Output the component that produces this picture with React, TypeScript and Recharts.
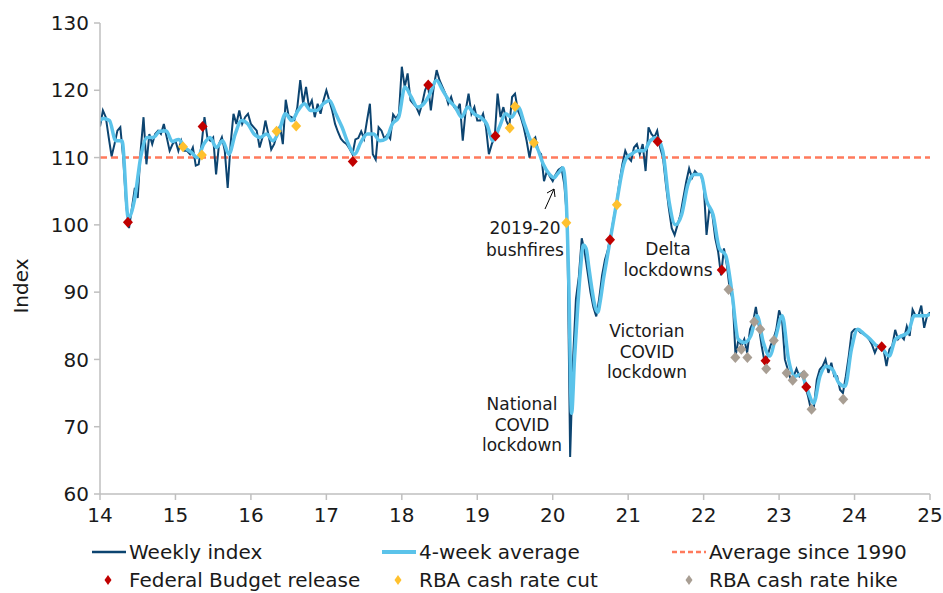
import React from 'react';
import { ComposedChart, Line, Scatter, XAxis, YAxis, ReferenceLine } from 'recharts';

const FONT = 'Verdana, "DejaVu Sans", sans-serif';
const AXIS_GREY = '#BFBFBF';
const WEEKLY_COLOR = '#0C4470';
const AVG_COLOR = '#5BC3EA';
const REF_COLOR = '#FF7A5C';

// weekly index, read roughly every two weeks (26 readings per year)
const weekly14 = [114.6, 117, 116, 113, 110.2, 112, 114, 114.5, 110, 103, 99.5, 102.5, 105.5, 104, 111, 116, 109, 113.5, 112, 113.5, 114, 113.5, 115, 113, 111, 112];
const weekly15 = [112.5, 111, 112.5, 111, 111, 110.5, 111.5, 108.8, 109, 112, 116, 113, 112.5, 113, 107.5, 112, 113, 111, 105.5, 112, 116.5, 115, 117, 115, 116, 116.5];
const weekly16 = [115, 114.5, 114, 111.5, 113, 115.5, 113.5, 111.2, 112, 113.5, 114.7, 112, 118.6, 116.2, 116, 115.6, 117.5, 121.5, 118, 120.5, 117.5, 118.5, 116, 118, 116.5, 118.5];
const weekly17 = [120, 118.5, 117, 115, 113.8, 112.8, 112.3, 112, 111.3, 110.5, 112.7, 112.9, 113.9, 112.8, 115.5, 118, 110.5, 109.7, 114.5, 114, 112.8, 113.4, 112.8, 116.4, 115.8, 116.5];
const weekly18 = [123.5, 120.5, 122.5, 118.5, 118, 117.5, 116.5, 118, 120, 121, 117, 120.5, 123, 121.5, 120.5, 119.5, 118, 119, 117.5, 117, 118, 112.5, 117, 119.5, 116.5, 117.5];
const weekly19 = [115.5, 115.5, 116.5, 114.5, 110.5, 112, 113, 119.5, 116, 117.5, 115.5, 114.5, 119, 119.5, 117, 116, 114.5, 112.5, 110, 112.5, 113, 111, 110.5, 106.5, 108, 107.2];
const weekly20 = [106.5, 107.5, 108.2, 108.5, 106, 100.5, 65.5, 80, 89, 92.3, 98, 96, 93, 90, 87.8, 86.4, 89, 92.5, 94.8, 96.3, 98.5, 101, 103.3, 106.4, 109, 111];
const weekly21 = [110, 109.5, 111.5, 112, 110.5, 112, 108, 114.5, 113.5, 113, 114, 111.5, 110, 106, 102.5, 99.5, 98.5, 100, 101.5, 104, 106.4, 108.4, 107, 108, 107.5, 107.5];
const weekly22 = [106, 98.5, 102.5, 101.5, 98, 96, 92.5, 96.5, 94, 90.4, 89, 80.5, 83, 82, 83, 81, 84.5, 85.5, 87.8, 85, 82, 79.6, 80.5, 82, 83, 84.4];
const weekly23 = [87.3, 86, 80, 78.5, 77, 77.5, 78.6, 77.5, 78, 76, 74.5, 72.5, 73, 77, 78.5, 79, 80, 78, 79.5, 77.5, 77.5, 75.5, 75, 77.5, 80.5, 84];
const weekly24 = [84.5, 84.5, 84, 83.8, 83.5, 83, 82.2, 81, 82, 81.5, 81.5, 79, 81.5, 82, 84.4, 83, 83.5, 83, 84.9, 83.5, 87.4, 86.5, 86.5, 88, 84.7, 86.5];
const weeklyLast = 87;

// 4-week average, monthly readings (fortnightly through 2020)
const avg14 = [115.8, 115.5, 112.5, 112.5, 101, 103.8, 110.2, 113, 113, 113.9, 114, 112.4];
const avg15 = [112.7, 111.5, 110.8, 110, 112, 113, 111.5, 112.5, 110.5, 113.5, 115.5, 115];
const avg16 = [113.5, 113, 113.5, 112.5, 114, 116.5, 115.5, 117, 118, 117, 117, 118];
const avg17 = [118.5, 116.5, 114.5, 112, 110.5, 112.3, 113.5, 113.5, 112.5, 112.8, 115, 116];
const avg18 = [120.5, 119, 117.5, 118, 119.5, 121.5, 120, 118.5, 117.5, 116, 117.5, 116.5];
const avg19 = [116, 115, 112.5, 114.5, 116.5, 116, 117.5, 115, 112.5, 111.5, 109, 107.5];
const avg20 = [107, 107.5, 108, 108.5, 105, 92, 72, 80, 87, 93, 97, 96.5, 93.5, 90.5, 88, 87, 89, 92, 94.5, 97, 99.5, 102, 104.5, 107, 109, 110];
const avg21 = [110.5, 111, 111, 112.5, 113, 111, 103.5, 100, 101.5, 106, 107.5, 107.5];
const avg22 = [103.5, 101.5, 96.5, 95.5, 90, 83, 82.5, 83.5, 86.5, 82.5, 80.5, 83.5];
const avg23 = [86.5, 80, 77.5, 77.8, 75.5, 73.5, 77.5, 79, 78.5, 76.5, 76, 81.5];
const avg24 = [84.5, 83.8, 83, 82, 81.5, 80.5, 83, 83.5, 84, 86.5, 86.5, 86.5];
const avgFirst = 115.5;
const avgLast = 86.8;

const budgetT = [14.37, 15.36, 17.35, 18.35, 19.24, 20.76, 21.39, 22.24, 22.82, 23.36, 24.36];
const budgetV = [100.4, 114.6, 109.4, 120.8, 113.2, 97.8, 112.4, 93.3, 79.8, 75.9, 81.9];
const cutT = [15.1, 15.35, 16.34, 16.6, 19.43, 19.5, 19.75, 20.18, 20.85];
const cutV = [111.6, 110.4, 113.9, 114.7, 114.4, 117.6, 112.2, 100.3, 103];
const hikeT = [22.33, 22.42, 22.5, 22.58, 22.67, 22.75, 22.83, 22.93, 23.1, 23.18, 23.33, 23.43, 23.85];
const hikeV = [90.4, 80.3, 81.5, 80.3, 85.6, 84.5, 78.6, 82.8, 78, 76.9, 77.7, 72.6, 74.1];

const xTicks = [14, 15, 16, 17, 18, 19, 20, 21, 22, 23, 24, 25];
const yTicks = [60, 70, 80, 90, 100, 110, 120, 130];
const average1990 = 110;

const weeklyYears = [weekly14, weekly15, weekly16, weekly17, weekly18, weekly19, weekly20, weekly21, weekly22, weekly23, weekly24];
const avgYears = [avg14, avg15, avg16, avg17, avg18, avg19, avg20, avg21, avg22, avg23, avg24];

const weeklyData = weeklyYears
  .flatMap((vals, y) => vals.map((v, i) => ({ t: 14 + y + i / vals.length, v })))
  .concat([{ t: 25, v: weeklyLast }]);

const avgData = [{ t: 14, v: avgFirst }]
  .concat(avgYears.flatMap((vals, y) => vals.map((v, i) => ({ t: 14 + y + (i + 0.5) / vals.length, v }))))
  .concat([{ t: 25, v: avgLast }]);

const toPoints = (ts: number[], vs: number[]) => ts.map((t, i) => ({ t, v: vs[i] }));
const budgetData = toPoints(budgetT, budgetV);
const cutData = toPoints(cutT, cutV);
const hikeData = toPoints(hikeT, hikeV);

const diamond = (color: string) => (props: any) => {
  const { cx, cy } = props;
  if (cx == null || cy == null) return null;
  return <path d={`M${cx},${cy - 5.5}L${cx + 5},${cy}L${cx},${cy + 5.5}L${cx - 5},${cy}Z`} fill={color} />;
};

const smallDiamond = (x: number, y: number, color: string) => (
  <path d={`M${x},${y - 5}L${x + 3.5},${y}L${x},${y + 5}L${x - 3.5},${y}Z`} fill={color} />
);

const textStyle = { fontFamily: FONT, fontSize: 17, fill: '#1a1a1a' };
const legendText = { fontFamily: FONT, fontSize: 20, fill: '#1a1a1a' };

function Overlay() {
  return (
    <svg width={943} height={593} style={{ position: 'absolute', left: 0, top: 0, pointerEvents: 'none' }}>
      <text x={22} y={286} transform="rotate(-90 22 286)" textAnchor="middle" dominantBaseline="middle" style={legendText}>
        Index
      </text>

      {/* annotations */}
      <text x={525} y={234} textAnchor="middle" style={textStyle}>2019-20</text>
      <text x={525} y={256} textAnchor="middle" style={textStyle}>bushfires</text>
      <line x1={545} y1={209} x2={554} y2={189} stroke="#000" strokeWidth={1} />
      <polyline points="547,193 554,189 555,197" fill="none" stroke="#000" strokeWidth={1} />

      <text x={668} y={255} textAnchor="middle" style={textStyle}>Delta</text>
      <text x={668} y={276} textAnchor="middle" style={textStyle}>lockdowns</text>

      <text x={647} y={337} textAnchor="middle" style={textStyle}>Victorian</text>
      <text x={647} y={358} textAnchor="middle" style={textStyle}>COVID</text>
      <text x={647} y={378} textAnchor="middle" style={textStyle}>lockdown</text>

      <text x={522} y={410} textAnchor="middle" style={textStyle}>National</text>
      <text x={522} y={431} textAnchor="middle" style={textStyle}>COVID</text>
      <text x={522} y={451} textAnchor="middle" style={textStyle}>lockdown</text>

      {/* legend */}
      <line x1={92} y1={552} x2={126} y2={552} stroke={WEEKLY_COLOR} strokeWidth={2.5} />
      <text x={129} y={559} style={legendText}>Weekly index</text>
      <line x1={382} y1={552} x2={416} y2={552} stroke={AVG_COLOR} strokeWidth={4} />
      <text x={419} y={559} style={legendText}>4-week average</text>
      <line x1={672} y1={552} x2={706} y2={552} stroke={REF_COLOR} strokeWidth={2.5} strokeDasharray="5 3" />
      <text x={709} y={559} style={legendText}>Average since 1990</text>

      {smallDiamond(108, 580, '#C00000')}
      <text x={129} y={587} style={legendText}>Federal Budget release</text>
      {smallDiamond(398, 580, '#FFC12E')}
      <text x={419} y={587} style={legendText}>RBA cash rate cut</text>
      {smallDiamond(689, 580, '#A89E93')}
      <text x={709} y={587} style={legendText}>RBA cash rate hike</text>
    </svg>
  );
}

export default function App() {
  const tickStyle = { fontFamily: FONT, fontSize: 20, fill: '#1a1a1a' };
  return (
    <div style={{ position: 'absolute', left: 0, top: 0, width: 943, height: 593, background: '#fff' }}>
      <ComposedChart width={943} height={593} margin={{ top: 23, right: 13, left: 40, bottom: 69 }}>
        <XAxis
          type="number"
          dataKey="t"
          domain={[14, 25]}
          ticks={xTicks}
          interval={0}
          allowDataOverflow
          stroke={AXIS_GREY}
          strokeWidth={1.5}
          tickSize={6}
          tickMargin={8}
          height={30}
          tick={tickStyle}
        />
        <YAxis
          type="number"
          domain={[60, 130]}
          ticks={yTicks}
          interval={0}
          allowDataOverflow
          stroke={AXIS_GREY}
          strokeWidth={1.5}
          tickSize={6}
          tickMargin={5}
          width={60}
          tick={tickStyle}
        />
        <ReferenceLine y={average1990} stroke={REF_COLOR} strokeWidth={2.5} strokeDasharray="7 4" />
        <Line data={weeklyData} dataKey="v" type="linear" stroke={WEEKLY_COLOR} strokeWidth={2} dot={false} isAnimationActive={false} />
        <Line data={avgData} dataKey="v" type="monotone" stroke={AVG_COLOR} strokeWidth={3.5} dot={false} isAnimationActive={false} />
        <Scatter data={budgetData} dataKey="v" shape={diamond('#C00000')} isAnimationActive={false} />
        <Scatter data={cutData} dataKey="v" shape={diamond('#FFC12E')} isAnimationActive={false} />
        <Scatter data={hikeData} dataKey="v" shape={diamond('#A89E93')} isAnimationActive={false} />
      </ComposedChart>
      <Overlay />
    </div>
  );
}
